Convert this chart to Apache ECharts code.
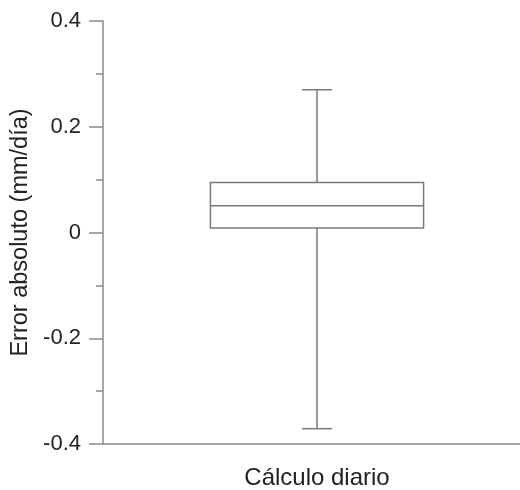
<!DOCTYPE html>
<html>
<head>
<meta charset="utf-8">
<script src="https://cdn.jsdelivr.net/npm/echarts@6/dist/echarts.min.js"></script>
<style>html,body{margin:0;padding:0;background:#fff;overflow:hidden;}#c{width:532px;height:490px;}</style>
</head>
<body>
<div id="c"></div>
<script>
var categories = ['Cálculo diario'];
var whiskerLow = [-0.371];
var q1 = [0.0085];
var median = [0.0505];
var q3 = [0.0945];
var whiskerHigh = [0.270];
var yTicks = [-0.4, -0.2, 0, 0.2, 0.4];

var data = categories.map(function (c, i) {
  return [i, whiskerLow[i], q1[i], median[i], q3[i], whiskerHigh[i]];
});

var lineColor = '#7a7a7a';
var axisColor = '#8a8a8a';
var textColor = '#222';
var font = 'Liberation Sans, Arial, sans-serif';

var chart = echarts.init(document.getElementById('c'));
chart.setOption({
  animation: false,
  grid: { left: 103, top: 21, height: 424.7, width: 428 },
  xAxis: {
    type: 'category',
    data: categories,
    axisLine: { onZero: false, lineStyle: { color: axisColor, width: 1.5 } },
    axisTick: { alignWithLabel: true, length: 13, lineStyle: { color: axisColor, width: 1.5 } },
    axisLabel: { color: textColor, fontSize: 24, fontFamily: font, margin: 22 },
    splitLine: { show: false }
  },
  yAxis: {
    type: 'value',
    min: yTicks[0],
    max: yTicks[yTicks.length - 1],
    interval: 0.2,
    name: 'Error absoluto (mm/día)',
    nameLocation: 'middle',
    nameGap: 67,
    nameTextStyle: { color: textColor, fontSize: 23.5, fontFamily: font },
    axisLine: { show: true, onZero: false, lineStyle: { color: axisColor, width: 1.5 } },
    axisTick: { show: true, length: 14, lineStyle: { color: axisColor, width: 1.5 } },
    minorTick: { show: true, splitNumber: 2, length: 7, lineStyle: { color: axisColor, width: 1.5 } },
    axisLabel: { color: textColor, fontSize: 22, fontFamily: font, margin: 22 },
    splitLine: { show: false }
  },
  series: [{
    type: 'custom',
    data: data,
    clip: false,
    renderItem: function (params, api) {
      var x = api.value(0);
      var band = api.size([1, 0])[0];
      var boxHalf = band * 0.249;
      var capHalf = band * 0.035;
      var pLow = api.coord([x, api.value(1)]);
      var pQ1 = api.coord([x, api.value(2)]);
      var pMed = api.coord([x, api.value(3)]);
      var pQ3 = api.coord([x, api.value(4)]);
      var pHigh = api.coord([x, api.value(5)]);
      var cx = pMed[0];
      var st = { stroke: lineColor, lineWidth: 1.5, fill: null };
      return {
        type: 'group',
        children: [
          { type: 'rect', shape: { x: cx - boxHalf, y: pQ3[1], width: boxHalf * 2, height: pQ1[1] - pQ3[1] }, style: { stroke: lineColor, lineWidth: 1.5, fill: '#fff' } },
          { type: 'line', shape: { x1: cx - boxHalf, y1: pMed[1], x2: cx + boxHalf, y2: pMed[1] }, style: st },
          { type: 'line', shape: { x1: cx, y1: pQ3[1], x2: cx, y2: pHigh[1] }, style: st },
          { type: 'line', shape: { x1: cx, y1: pQ1[1], x2: cx, y2: pLow[1] }, style: st },
          { type: 'line', shape: { x1: cx - capHalf, y1: pHigh[1], x2: cx + capHalf, y2: pHigh[1] }, style: st },
          { type: 'line', shape: { x1: cx - capHalf, y1: pLow[1], x2: cx + capHalf, y2: pLow[1] }, style: st }
        ]
      };
    }
  }]
});
</script>
</body>
</html>
